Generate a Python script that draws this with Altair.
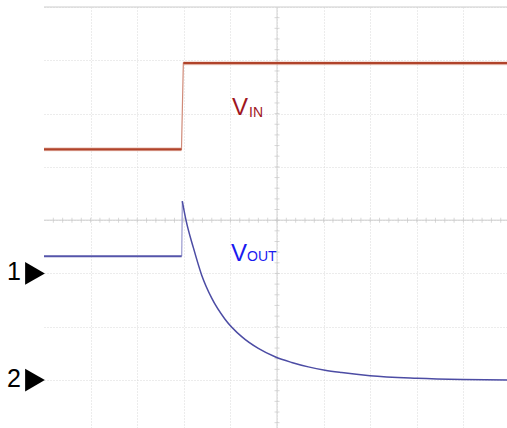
import altair as alt
import pandas as pd
import numpy as np

# Scope screen: time in divisions from the left edge, level in divisions from the centre line
vin_t = [0.0, 2.95, 2.99, 9.95]
vin_v = [1.33, 1.33, 2.945, 2.945]

vout_t = [0.0, 2.955, 2.968, 3.047, 3.208, 3.384, 3.599, 3.884, 4.242, 4.599, 4.957,
          5.315, 5.672, 6.03, 6.388, 6.996, 8.004, 8.991, 9.95]
vout_v = [-0.675, -0.675, 0.357, 0.0, -0.525, -1.032, -1.464, -1.858, -2.186, -2.407, -2.564,
          -2.67, -2.753, -2.815, -2.859, -2.918, -2.965, -2.989, -3.0]

# channel ground markers
marker_names = ["1", "2"]
marker_levels = [-1.0, -3.0]

X_DOM = [0, 9.935]
Y_DOM = [-3.9, 4.0]

vin = pd.DataFrame({"t": vin_t, "v": vin_v})
vout = pd.DataFrame({"t": vout_t, "v": vout_v})
markers = pd.DataFrame({"name": marker_names, "v": marker_levels})

# flat parts of the traces (drawn heavier than the fast edges)
vin_flat = pd.DataFrame({
    "t": vin_t, "v": vin_v, "part": ["low", "low", "high", "high"],
})
vout_body = vout.iloc[2:].reset_index(drop=True)
vout_pre = vout.iloc[:2].reset_index(drop=True)

xs = alt.Scale(domain=X_DOM, nice=False, zero=False)
ys = alt.Scale(domain=Y_DOM, nice=False, zero=False)

grid_axis_x = alt.Axis(values=list(range(1, 10)), grid=True, gridColor="#d9d9d9",
                       gridDash=[1, 2], gridWidth=1, labels=False, ticks=False,
                       domain=False, title=None)
grid_axis_y = alt.Axis(values=list(range(-3, 5)), grid=True, gridColor="#d9d9d9",
                       gridDash=[1, 2], gridWidth=1, labels=False, ticks=False,
                       domain=False, title=None)

X = alt.X("t:Q", scale=xs)
Y = alt.Y("v:Q", scale=ys)

# graticule from the axes
grid = alt.Chart(vin).mark_line(opacity=0).encode(
    x=alt.X("t:Q", scale=xs, axis=grid_axis_x),
    y=alt.Y("v:Q", scale=ys, axis=grid_axis_y),
)

# centre lines and top edge
hlines = alt.Chart(pd.DataFrame({"v": [0.0, 4.0]})).mark_rule(color="#cdcdcd", strokeWidth=1).encode(y=Y)
vline = alt.Chart(pd.DataFrame({"t": [5.0]})).mark_rule(color="#d2d2d2", strokeWidth=1).encode(x=X)

# minor ticks along the centre lines (5 per division)
minor_x = pd.DataFrame({"t": np.round(np.arange(0.2, 9.95, 0.2), 2), "v": 0.0})
minor_y = pd.DataFrame({"v": np.round(np.arange(-3.8, 4.0, 0.2), 2), "t": 5.0})
ticks_x = alt.Chart(minor_x).mark_tick(orient="vertical", size=5, thickness=1, color="#c8c8c8").encode(x=X, y=Y)
ticks_y = alt.Chart(minor_y).mark_tick(orient="horizontal", size=5, thickness=1, color="#c8c8c8").encode(x=X, y=Y)

# VIN trace: thin edge, heavier flat levels with a soft halo
vin_edge = alt.Chart(vin).mark_line(color="#d08a78", strokeWidth=1.2).encode(x=X, y=Y)
vin_halo = alt.Chart(vin_flat).mark_line(color="#e6b2a4", strokeWidth=4, opacity=0.55).encode(
    x=X, y=Y, detail="part:N")
vin_line = alt.Chart(vin_flat).mark_line(color="#b0432a", strokeWidth=2.2).encode(
    x=X, y=Y, detail="part:N")

# VOUT trace
vout_edge = alt.Chart(vout.iloc[1:3]).mark_line(color="#9a9ad0", strokeWidth=1.2).encode(x=X, y=Y)
vout_flat = alt.Chart(vout_pre).mark_line(color="#5555aa", strokeWidth=2).encode(x=X, y=Y)
vout_line = alt.Chart(vout_body).mark_line(color="#4c4ca4", strokeWidth=1.5,
                                           interpolate="monotone").encode(x=X, y=Y)

# trace labels with subscripts
lab_main = pd.DataFrame({"txt": ["V", "V"], "t": [4.034, 4.013], "v": [1.97, -0.769],
                         "c": ["#a0161e", "#1a1af0"]})
lab_sub = pd.DataFrame({"txt": ["IN", "OUT"], "t": [4.399, 4.356], "v": [1.933, -0.769],
                        "c": ["#a0161e", "#1a1af0"]})
main_text = alt.Chart(lab_main).mark_text(font="Liberation Sans", fontSize=24, align="left",
                                          baseline="alphabetic").encode(
    x=X, y=Y, text="txt:N", color=alt.Color("c:N", scale=None))
sub_text = alt.Chart(lab_sub).mark_text(font="Liberation Sans", fontSize=14, align="left",
                                        baseline="alphabetic").encode(
    x=X, y=Y, text="txt:N", color=alt.Color("c:N", scale=None))

# channel reference markers left of the screen
marker_text = alt.Chart(markers).mark_text(font="Liberation Sans", fontSize=25, align="right",
                                           baseline="middle", dy=-1, color="black").encode(
    x=alt.value(-23), y=Y, text="name:N")
marker_tri = alt.Chart(markers).mark_point(shape="triangle-right", filled=True, size=520,
                                           color="black", opacity=1).encode(
    x=alt.value(-9), y=Y)

chart = alt.layer(
    grid, hlines, vline, ticks_x, ticks_y,
    vin_edge, vin_halo, vin_line, vout_edge, vout_flat, vout_line,
    main_text, sub_text, marker_text, marker_tri,
).properties(
    width=463, height=421,
    autosize=alt.AutoSizeParams(type="none"),
    padding={"left": 44, "top": 7, "right": 0, "bottom": 0},
).configure_view(stroke=None)

chart.save("out.html", embed_options={"renderer": "svg", "actions": False})
